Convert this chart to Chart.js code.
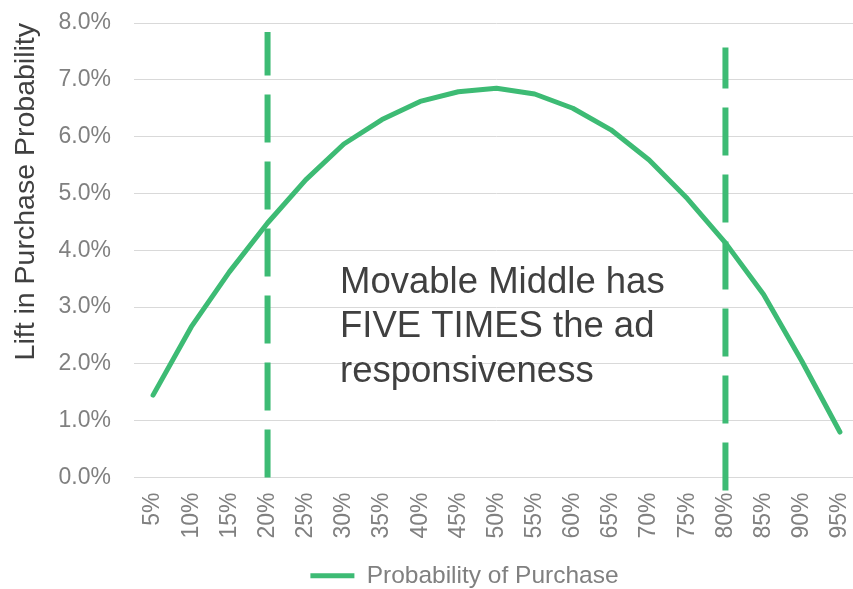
<!DOCTYPE html>
<html>
<head>
<meta charset="utf-8">
<script src="https://cdn.jsdelivr.net/npm/chart.js@4"></script>
<style>
    html, body { margin: 0; padding: 0; background: #ffffff; }
    body { width: 853px; height: 589px; overflow: hidden; }
    #wrap { width: 929px; height: 589px; }
</style>
</head>
<body>
<div id="wrap"><canvas id="grafico" width="929" height="589"></canvas></div>
<script>
    const rotulosProb = ['5%', '10%', '15%', '20%', '25%', '30%', '35%', '40%', '45%', '50%',
        '55%', '60%', '65%', '70%', '75%', '80%', '85%', '90%', '95%'];
    const liftCompra = [1.45, 2.65, 3.62, 4.48, 5.24, 5.87, 6.30, 6.62, 6.79, 6.85,
        6.75, 6.50, 6.12, 5.59, 4.91, 4.13, 3.22, 2.05, 0.80];
    const marcadores = ['20%', '80%'];
    const marcadorTopo = [7.84, 7.57];
    const marcadorBase = [0.0, -0.23];
    const textoDestaque = ['Movable Middle has', 'FIVE TIMES the ad', 'responsiveness'];

    const verde = '#3dbb74';
    const fonte = '"Liberation Sans", Arial, sans-serif';

    const linhasMarcador = marcadores.map(function (rotulo, i) {
        return {
            label: 'marcador',
            data: [
                { x: rotulo, y: marcadorBase[i] },
                { x: rotulo, y: marcadorTopo[i] }
            ],
            borderColor: verde,
            backgroundColor: verde,
            borderWidth: 6,
            borderDash: [48, 19],
            borderCapStyle: 'butt',
            pointRadius: 0,
            clip: false
        };
    });

    const destaque = {
        id: 'destaque',
        afterDraw: function (chart) {
            const ctx = chart.ctx;
            const x = chart.scales.x.getPixelForValue(4.9);
            const y = chart.scales.y.getPixelForValue(3.25);
            ctx.save();
            ctx.font = '36.5px ' + fonte;
            ctx.fillStyle = '#404040';
            ctx.textBaseline = 'alphabetic';
            ctx.textAlign = 'left';
            textoDestaque.forEach(function (linha, i) {
                ctx.fillText(linha, x, y + i * 44.5);
            });
            ctx.restore();
        }
    };

    new Chart(document.getElementById('grafico'), {
        type: 'line',
        data: {
            labels: rotulosProb,
            datasets: [{
                label: 'Probability of Purchase',
                data: liftCompra,
                borderColor: verde,
                backgroundColor: verde,
                borderWidth: 5,
                borderCapStyle: 'round',
                borderJoinStyle: 'round',
                pointRadius: 0,
                tension: 0
            }].concat(linhasMarcador)
        },
        options: {
            responsive: false,
            animation: false,
            layout: { padding: { top: 23, left: 0, right: 0, bottom: -9 } },
            plugins: {
                tooltip: { enabled: false },
                legend: {
                    position: 'bottom',
                    labels: {
                        filter: function (item) { return item.text !== 'marcador'; },
                        usePointStyle: true,
                        pointStyle: 'line',
                        pointStyleWidth: 44,
                        padding: 4,
                        color: '#808080',
                        font: { family: fonte, size: 24.5 }
                    }
                }
            },
            scales: {
                x: {
                    type: 'category',
                    offset: true,
                    grid: { display: false, drawTicks: false },
                    border: { display: true, color: '#d9d9d9', width: 1 },
                    ticks: {
                        color: '#808080',
                        font: { family: fonte, size: 23 },
                        minRotation: 90,
                        maxRotation: 90,
                        padding: 15,
                        autoSkip: false
                    },
                    afterFit: function (scale) { scale.height = 82; }
                },
                y: {
                    min: 0,
                    max: 8,
                    grid: { color: '#d9d9d9', drawTicks: false },
                    border: { display: false },
                    ticks: {
                        stepSize: 1,
                        color: '#808080',
                        padding: 23,
                        font: { family: fonte, size: 23 },
                        callback: function (v) { return v.toFixed(1) + '%'; }
                    },
                    title: {
                        display: true,
                        text: 'Lift in Purchase Probability',
                        align: 'end',
                        color: '#404040',
                        padding: { top: 9, bottom: 0 },
                        font: { family: fonte, size: 28.5 }
                    },
                    afterFit: function (scale) {
                        scale.width = 134;
                        scale.paddingTop = 0;
                        scale.paddingBottom = 0;
                    }
                },
                direita: {
                    type: 'linear',
                    position: 'right',
                    grid: { display: false, drawTicks: false },
                    border: { display: false },
                    ticks: { display: false },
                    afterFit: function (scale) { scale.width = 70; }
                }
            }
        },
        plugins: [destaque]
    });
</script>
</body>
</html>
